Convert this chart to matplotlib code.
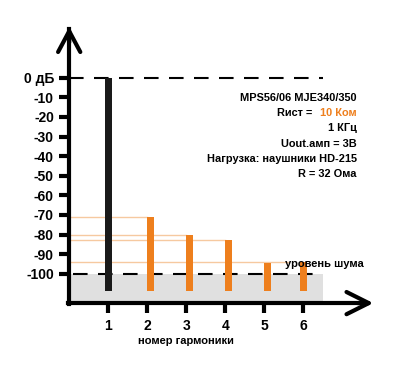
import numpy as np
import matplotlib.pyplot as plt

plt.rcParams['font.family'] = ['Liberation Sans', 'DejaVu Sans']

# data
harmonics = [1, 2, 3, 4, 5, 6]
levels_db = [0, -71, -80.3, -82.8, -94.7, -93.9]
bar_colors = ['#1a1a1a', '#ee7f1d', '#ee7f1d', '#ee7f1d', '#ee7f1d', '#ee7f1d']
bar_align = ['center', 'edge', 'edge', 'edge', 'edge', 'center']
ytick_vals = [0, -10, -20, -30, -40, -50, -60, -70, -80, -90, -100]
ytick_labels = ['0 дБ'] + [str(v) for v in ytick_vals[1:]]
guide_levels = [-71, -80.3, -82.8, -94]
guide_ends = [2, 3, 4, 5.6]
noise_db = -100
bar_bottom = -109
info_lines = ['MPS56/06 MJE340/350', 'Rист = ', '1 КГц', 'Uout.амп = 3В',
              'Нагрузка: наушники HD-215', 'R = 32 Ома']


def main():
    fig = plt.figure(figsize=(4, 3.72), dpi=100)
    ax = fig.add_axes([0.173, 0.1852, 0.78, 0.764])
    ax.set_xlim(0, 8.0)
    ax.set_ylim(-115, 30)

    # noise floor area
    ax.fill_between([0, 6.5], -113.7, noise_db, color='#e0e0e0', lw=0, zorder=0)

    # thin orange guides from the axis to the bar tops
    for lev, xe in zip(guide_levels, guide_ends):
        ax.plot([0, xe], [lev, lev], color='#f6c9a0', lw=1, zorder=1)

    # dashed reference lines
    ax.plot([0, 6.5], [0, 0], color='black', lw=1.5, dashes=(7, 5), zorder=1)
    ax.plot([0.1, 6.5], [noise_db, noise_db], color='black', lw=1.5, dashes=(7, 5), zorder=1)

    for h, lev, c, al in zip(harmonics, levels_db, bar_colors, bar_align):
        ax.bar(h, lev - bar_bottom, bottom=bar_bottom, width=0.185, color=c,
               align=al, zorder=2)

    for s in ['top', 'right']:
        ax.spines[s].set_visible(False)
    ax.spines['left'].set_linewidth(3)
    ax.spines['bottom'].set_linewidth(3)
    ax.spines['left'].set_bounds(-115.5, 25)
    ax.spines['bottom'].set_bounds(-0.03, 7.6)

    ax.set_yticks(ytick_vals)
    ax.set_yticklabels(ytick_labels, fontsize=10, fontweight='bold')
    ax.set_xticks(harmonics)
    ax.set_xticklabels([str(h) for h in harmonics], fontsize=10, fontweight='bold')
    ax.tick_params(axis='both', length=7.5, width=3, direction='out', pad=3.5)
    ax.tick_params(axis='x', pad=4)

    # arrow heads
    ax.annotate('', xy=(0, 26), xytext=(0, 18),
                arrowprops=dict(arrowstyle='->,head_length=1.5,head_width=0.8',
                                lw=3, color='black', shrinkA=0, shrinkB=0),
                annotation_clip=False)
    ax.annotate('', xy=(7.8, -115), xytext=(7.4, -115),
                arrowprops=dict(arrowstyle='->,head_length=1.6,head_width=0.8',
                                lw=3, color='black', shrinkA=0, shrinkB=0),
                annotation_clip=False)

    ax.set_xlabel('номер гармоники', fontsize=8, fontweight='bold')
    ax.xaxis.set_label_coords(3 / 8.0, -0.115)

    # info block, right aligned
    y0 = 0.7225
    dy = 0.0539
    xr = 0.922
    fs = 7.9
    for i, t in enumerate(info_lines):
        if i == 1:
            ax.text(xr, y0 - i * dy, '10 Ком', transform=ax.transAxes,
                    ha='right', va='center', fontsize=fs, fontweight='bold',
                    color='#ee7f1d')
            ax.text(0.7875, y0 - i * dy, t, transform=ax.transAxes,
                    ha='right', va='center', fontsize=fs, fontweight='bold')
        else:
            ax.text(xr, y0 - i * dy, t, transform=ax.transAxes,
                    ha='right', va='center', fontsize=fs, fontweight='bold')

    ax.text(5.53, -95.2, 'уровень шума', ha='left', va='center',
            fontsize=8, fontweight='bold', zorder=3)

    fig.savefig('out.png', dpi=100)


if __name__ == "__main__":
    main()
